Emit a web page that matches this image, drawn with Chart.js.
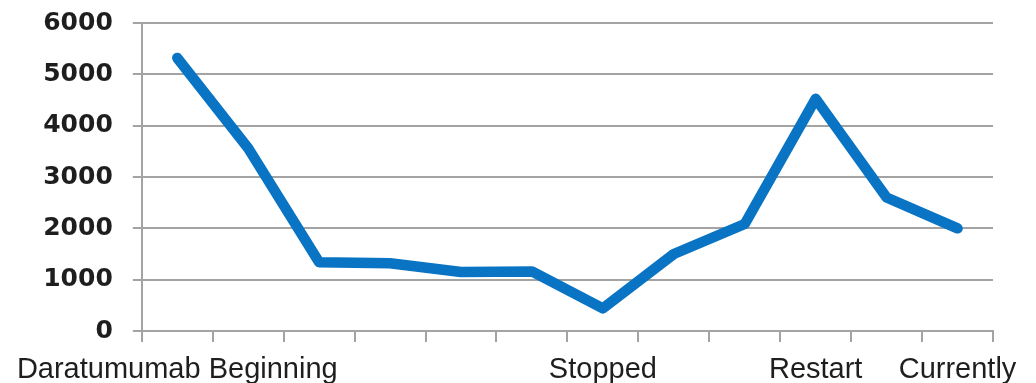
<!DOCTYPE html>
<html>
<head>
<meta charset="utf-8">
<script src="https://cdn.jsdelivr.net/npm/chart.js@4"></script>
<style>
  html, body { margin: 0; padding: 0; background: #ffffff; }
  #wrap { width: 1036px; height: 383px; position: relative; }
</style>
</head>
<body>
<div id="wrap"><canvas id="chart"></canvas></div>
<script>
// Category labels (only some positions are named)
const categories = [
  'Daratumumab Beginning', '', '', '', '', '',
  'Stopped', '', '', 'Restart', '', 'Currently'
];
// Measured values over time
const values = [5320, 3560, 1340, 1320, 1150, 1160, 440, 1500, 2085, 4525, 2600, 2000];
// Y axis range and tick spacing
const yMin = 0;
const yMax = 6000;
const yStep = 1000;

const gridColor = '#a3a3a3';
const textColor = '#1e1e1e';

new Chart(document.getElementById('chart'), {
  type: 'line',
  data: {
    labels: categories,
    datasets: [{
      data: values,
      borderColor: '#0a74c4',
      borderWidth: 10.5,
      borderJoinStyle: 'round',
      borderCapStyle: 'round',
      pointRadius: 0,
      pointHoverRadius: 0,
      tension: 0,
      fill: false
    }]
  },
  options: {
    responsive: true,
    maintainAspectRatio: false,
    animation: false,
    devicePixelRatio: 1,
    layout: { padding: { left: 0, top: 23, right: 43, bottom: 0 } },
    plugins: { legend: { display: false }, tooltip: { enabled: false } },
    scales: {
      x: {
        type: 'category',
        offset: true,
        afterFit: (s) => { s.height = 52; },
        border: { display: true, color: gridColor, width: 2 },
        grid: {
          offset: true,
          drawOnChartArea: false,
          drawTicks: true,
          tickLength: 11,
          color: gridColor,
          lineWidth: 2
        },
        ticks: {
          autoSkip: false,
          maxRotation: 0,
          minRotation: 0,
          padding: 11,
          color: textColor,
          font: { family: '"Liberation Sans", Arial, sans-serif', size: 29 }
        }
      },
      y: {
        min: yMin,
        max: yMax,
        afterFit: (s) => {
          s.width = 141;
          s.paddingTop = 0;
          s.paddingBottom = 0;
        },
        border: { display: true, color: gridColor, width: 2 },
        grid: {
          color: gridColor,
          lineWidth: 2,
          drawTicks: true,
          tickLength: 9
        },
        ticks: {
          stepSize: yStep,
          padding: 20,
          color: textColor,
          callback: (v) => String(v),
          font: { family: '"DejaVu Sans", Verdana, sans-serif', size: 25, weight: 'bold' }
        }
      }
    }
  }
});
</script>
</body>
</html>
